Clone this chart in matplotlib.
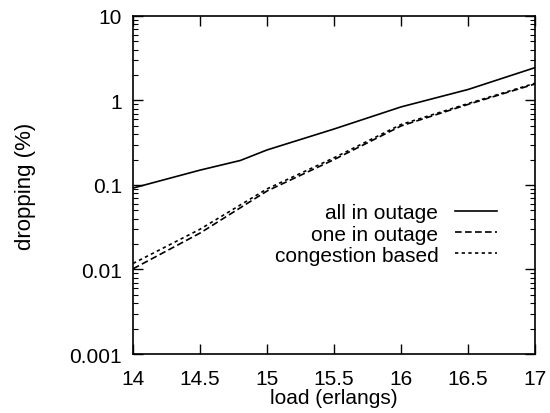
import numpy as np
import matplotlib
matplotlib.use("Agg")
import matplotlib.pyplot as plt
from matplotlib.ticker import LogLocator, FixedLocator, NullFormatter

plt.rcParams['font.family'] = ['Liberation Sans', 'DejaVu Sans']

# values
load_all = [14, 14.5, 14.8, 15, 15.5, 16, 16.5, 17]
drop_all = [0.092, 0.15, 0.195, 0.26, 0.46, 0.84, 1.35, 2.45]

load = [14, 14.5, 15, 15.5, 16, 16.5, 17]
drop_one = [0.0102, 0.027, 0.085, 0.2, 0.5, 0.9, 1.57]
drop_cong = [0.0118, 0.03, 0.09, 0.21, 0.52, 0.92, 1.6]

xticks = [14, 14.5, 15, 15.5, 16, 16.5, 17]
ytick_labels = ["0.001", "0.01", "0.1", "1", "10"]

fs = 15

fig = plt.figure(figsize=(5.5, 4.14), dpi=100)
ax = fig.add_axes([0.242, 0.1425, 0.731, 0.8165])

ax.plot(load_all, drop_all, color="black", lw=1.2, ls="-", label="all in outage")
ax.plot(load, drop_one, color="black", lw=1.2, ls=(0, (4, 2)), label="one in outage")
ax.plot(load, drop_cong, color="black", lw=1.2, ls=(0, (2, 2)), label="congestion based")

ax.set_yscale("log")
ax.set_xlim(14, 17)
ax.set_ylim(0.001, 10)
ax.set_xticks(xticks)
ax.set_xticklabels([f"{t:g}" for t in xticks])
ax.yaxis.set_major_locator(FixedLocator([0.001, 0.01, 0.1, 1, 10]))
ax.set_yticklabels(ytick_labels)
ax.yaxis.set_minor_locator(LogLocator(base=10, subs=np.arange(2, 10)))
ax.yaxis.set_minor_formatter(NullFormatter())

ax.tick_params(which="both", direction="in", top=True, right=True, labelsize=fs, color="black")
ax.tick_params(which="major", length=7, width=1)
ax.tick_params(which="minor", length=3.5, width=0.8)
ax.tick_params(axis="x", which="major", pad=11)
ax.tick_params(axis="y", which="major", pad=8)
for s in ax.spines.values():
    s.set_linewidth(1.2)

ax.set_xlabel("load (erlangs)", fontsize=fs, labelpad=0)
ax.set_ylabel("dropping (%)", fontsize=16, labelpad=24)

ax.legend(loc="upper right", bbox_to_anchor=(0.925, 0.47), frameon=False,
          markerfirst=False, fontsize=fs, handlelength=2.0,
          labelspacing=0.1, handletextpad=0.8, borderaxespad=0)

fig.savefig("out.png", dpi=100)
